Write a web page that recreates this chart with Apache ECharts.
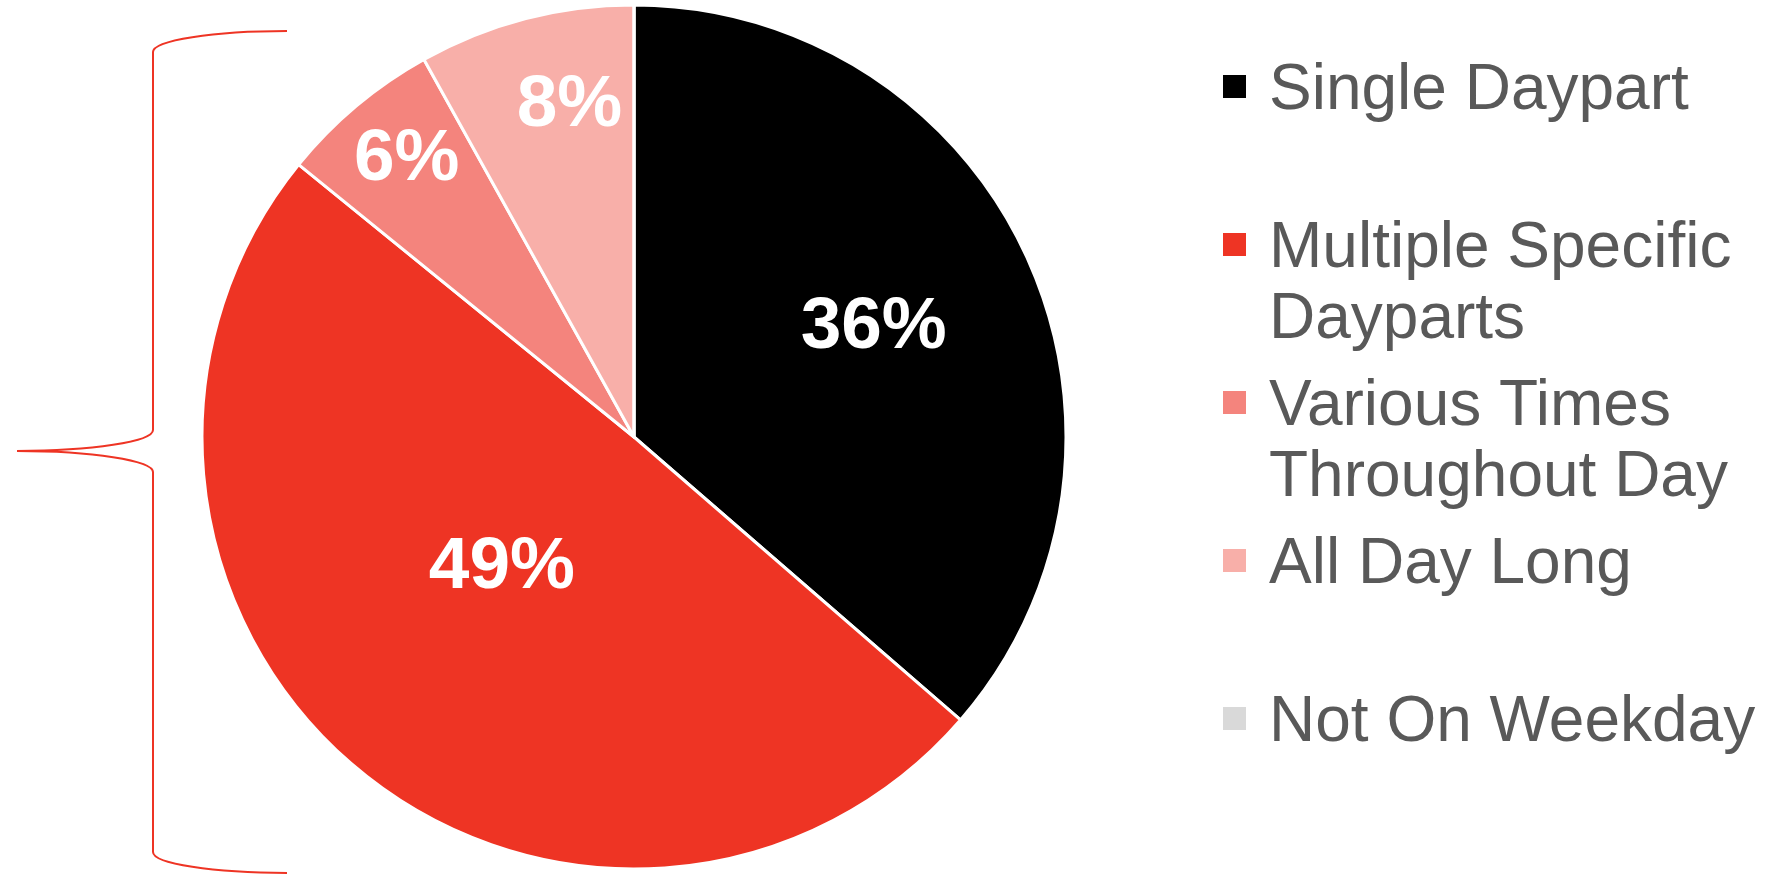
<!DOCTYPE html>
<html>
<head>
<meta charset="utf-8">
<title>Weekday Dayparts</title>
<script src="https://cdn.jsdelivr.net/npm/echarts@6/dist/echarts.min.js"></script>
<style>
  html, body { margin: 0; padding: 0; background: #ffffff; }
  #chart { width: 1778px; height: 875px; }
</style>
</head>
<body>
<div id="chart"></div>
<script>
// Share of respondents by weekday usage pattern (percent)
const categories = ['Single Daypart', 'Multiple Specific Dayparts', 'Various Times Throughout Day', 'All Day Long', 'Not On Weekday'];
const values = [36, 49, 6, 8, 0];
const legendLabels = ['Single Daypart', 'Multiple Specific\nDayparts', 'Various Times\nThroughout Day', 'All Day Long', 'Not On Weekday'];
const colors = ['#000000', '#EE3424', '#F4847D', '#F8AFA9', '#D9D9D9'];

// Pie geometry (pixels). Each value label is placed inside its slice at a fraction
// of the radius and at a fraction of the slice's angular span.
const PIE_CX = 634, PIE_CY = 437, PIE_R = 432;
const labelRadius = [0.61, 0.43, 0.83, 0.78, 0.5];
const labelSpan = [0.5, 0.53, 0.53, 0.62, 0.5];

const FONT = '"Liberation Sans", Arial, sans-serif';
const LEGEND_LINE = 71;
const BRACE_COLOR = '#EE3424';

const total = values.reduce((a, b) => a + b, 0);
function labelAngle(i) {
  const before = values.slice(0, i).reduce((a, b) => a + b, 0);
  return (before + values[i] * labelSpan[i]) / total * Math.PI * 2;
}

const chart = echarts.init(document.getElementById('chart'), null, { renderer: 'canvas' });

// Every legend entry gets the same block height; the padding puts the first text
// line level with the colour square (nudged 5px down), whatever the line count.
const legendData = categories.map((name, i) => {
  const twoLines = legendLabels[i].split('\n').length > 1;
  return {
    name: name,
    textStyle: {
      padding: twoLines ? [81, 0, 0, 17] : [81, 0, LEGEND_LINE, 17],
      backgroundColor: 'rgba(0,0,0,0)'
    }
  };
});

// Curly brace on the left, grouping the weekday slices
const braceStyle = { fill: 'none', stroke: BRACE_COLOR, lineWidth: 2 };
function curve(x1, y1, c1x, c1y, c2x, c2y, x2, y2) {
  return { type: 'bezierCurve', silent: true, style: braceStyle,
    shape: { x1: x1, y1: y1, cpx1: c1x, cpy1: c1y, cpx2: c2x, cpy2: c2y, x2: x2, y2: y2 } };
}
function segment(x1, y1, x2, y2) {
  return { type: 'line', silent: true, style: braceStyle, shape: { x1: x1, y1: y1, x2: x2, y2: y2 } };
}
const brace = [
  curve(287, 31, 213, 31, 153, 40.4, 153, 52),
  segment(153, 52, 153, 430),
  curve(153, 430, 153, 441.6, 92, 451, 17, 451),
  curve(17, 451, 92, 451, 153, 460.4, 153, 472),
  segment(153, 472, 153, 852),
  curve(153, 852, 153, 863.6, 213, 873, 287, 873)
];

chart.setOption({
  backgroundColor: '#ffffff',
  animation: false,
  color: colors,
  legend: {
    orient: 'vertical',
    left: 1221,
    top: -25,
    padding: 0,
    itemWidth: 25,
    itemHeight: 25,
    itemGap: -65,
    icon: 'rect',
    selectedMode: false,
    data: legendData,
    formatter: name => legendLabels[categories.indexOf(name)]
      .split('\n').map(line => '{t|' + line + '}').join('\n'),
    textStyle: {
      fontFamily: FONT,
      fontSize: 64,
      lineHeight: LEGEND_LINE,
      color: '#595959',
      rich: {
        t: { fontFamily: FONT, fontSize: 64, lineHeight: LEGEND_LINE, color: '#595959' }
      }
    }
  },
  graphic: brace,
  series: [{
    type: 'pie',
    center: [PIE_CX, PIE_CY],
    radius: [0, PIE_R],
    startAngle: 90,
    clockwise: true,
    silent: true,
    emphasis: { disabled: true },
    itemStyle: { borderColor: '#ffffff', borderWidth: 3 },
    label: {
      show: true,
      position: 'inside',
      formatter: p => (p.value ? p.value + '%' : ''),
      color: '#ffffff',
      fontFamily: FONT,
      fontWeight: 'bold',
      fontSize: 73
    },
    labelLine: { show: false },
    labelLayout: function (p) {
      const a = labelAngle(p.dataIndex);
      const k = labelRadius[p.dataIndex];
      return {
        x: PIE_CX + k * PIE_R * Math.sin(a),
        y: PIE_CY - k * PIE_R * Math.cos(a)
      };
    },
    data: categories.map((name, i) => ({ name: name, value: values[i] }))
  }]
});
</script>
</body>
</html>
